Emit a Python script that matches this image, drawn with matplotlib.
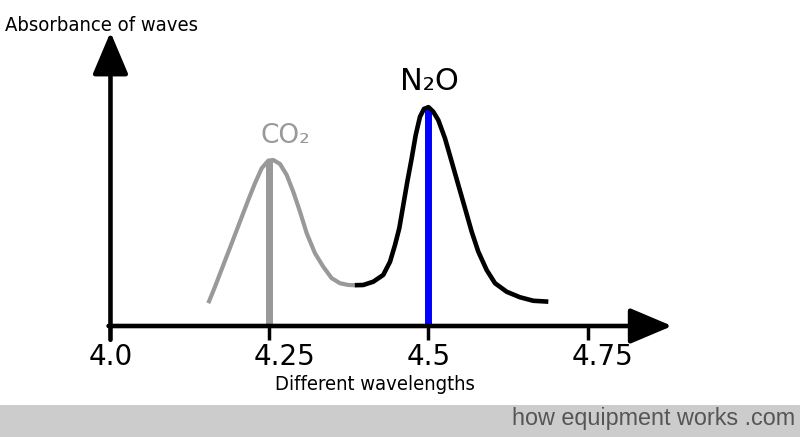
import matplotlib
matplotlib.use("Agg")
import matplotlib.pyplot as plt
from matplotlib.patches import Rectangle
from matplotlib import transforms

# CO2 band (grey)
co2_x = [4.1538, 4.1643, 4.1774, 4.1906, 4.2036, 4.2167, 4.2272, 4.2377, 4.2481,
         4.2560, 4.2665, 4.2770, 4.2874, 4.2980, 4.3085, 4.3215, 4.3346, 4.3478,
         4.3608, 4.3739, 4.3840]
co2_y = [0.104, 0.179, 0.278, 0.377, 0.476, 0.575, 0.651, 0.719, 0.754,
         0.757, 0.739, 0.689, 0.612, 0.521, 0.423, 0.332, 0.270, 0.218,
         0.195, 0.187, 0.186]

# N2O band (black)
n2o_x = [4.3840, 4.3975, 4.4132, 4.4289, 4.4395, 4.4473, 4.4541, 4.4604, 4.4667,
         4.4736, 4.4799, 4.4866, 4.4929, 4.5000, 4.5075, 4.5154, 4.5259, 4.5365,
         4.5469, 4.5574, 4.5679, 4.5783, 4.5915, 4.6046, 4.6230, 4.6439, 4.6648,
         4.6884]
n2o_y = [0.186, 0.187, 0.202, 0.233, 0.293, 0.369, 0.446, 0.552, 0.658,
         0.765, 0.871, 0.954, 0.990, 0.998, 0.977, 0.939, 0.856, 0.749,
         0.643, 0.537, 0.430, 0.339, 0.255, 0.195, 0.156, 0.131, 0.115,
         0.111]

peak_x = [4.25, 4.5]
peak_y = [0.755, 0.998]
peak_colors = ["#999999", "#0000ff"]

ticks = [4.0, 4.25, 4.5, 4.75]
tick_labels = ["4.0", "4.25", "4.5", "4.75"]

fig = plt.figure(figsize=(8, 4.37), dpi=100)
ax = fig.add_axes([0, 0, 1, 1])
ax.set_axis_off()
ax.set_xlim(3.8263, 5.0841)
ax.set_ylim(-0.5062, 1.4866)

# peak markers under the curves
for px, py, c in zip(peak_x, peak_y, peak_colors):
    ax.plot([px, px], [0, py], color=c, lw=5, solid_capstyle="butt", zorder=2)

ax.plot(co2_x, co2_y, color="#999999", lw=3, solid_capstyle="butt",
        solid_joinstyle="round", zorder=3)
ax.plot(n2o_x, n2o_y, color="black", lw=3.3, solid_capstyle="butt",
        solid_joinstyle="round", zorder=3)

# axes with arrow heads
arrow = dict(arrowstyle="-|>,head_length=1.3,head_width=0.55", lw=3.3,
             color="black", shrinkA=0, shrinkB=0, mutation_scale=20)
ax.annotate("", xy=(4.0, 1.34), xytext=(4.0, -0.063), arrowprops=arrow, zorder=4)
ax.annotate("", xy=(4.883, 0), xytext=(3.997, 0), arrowprops=arrow, zorder=4)
for t in ticks[1:]:
    ax.plot([t, t], [0, -0.063], color="black", lw=2.5, solid_capstyle="butt", zorder=4)

for t, lab in zip(ticks, tick_labels):
    tr = transforms.offset_copy(ax.transData, fig=fig,
                                x=(len(lab) - 3) * 11, y=0, units="points")
    ax.text(t, -0.178, lab, transform=tr, ha="center", va="baseline",
            fontsize=20, family="DejaVu Sans", color="black")

ax.text(4.275, 0.834, "CO₂", ha="center", va="baseline", fontsize=19,
        family="DejaVu Sans", color="#999999")
ax.text(4.502, 1.076, "N₂O", ha="center", va="baseline", fontsize=22,
        family="DejaVu Sans", color="black")

narrow = ["Liberation Sans Narrow", "DejaVu Sans"]
fig.text(5 / 800, 1 - 31 / 437, "Absorbance of waves", ha="left", va="baseline",
         fontsize=14.5, family=narrow, stretch="condensed", color="black")
fig.text(375 / 800, 1 - 390 / 437, "Different wavelengths", ha="center",
         va="baseline", fontsize=14.5, family=narrow, stretch="condensed",
         color="black")

# footer strip
fig.add_artist(Rectangle((0, 0), 1, 32 / 437, transform=fig.transFigure,
                         facecolor="#cccccc", edgecolor="none", zorder=0))
fig.text(795 / 800, 1 - 425 / 437, "how equipment works .com", ha="right",
         va="baseline", fontsize=16.8, family="Liberation Sans", color="#555555")

fig.savefig("out.png", dpi=100)
